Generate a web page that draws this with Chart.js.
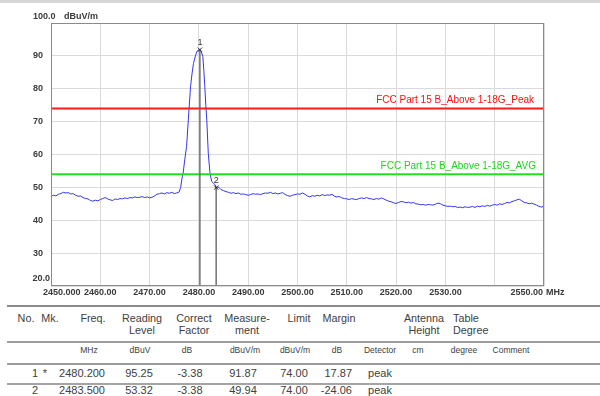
<!DOCTYPE html>
<html>
<head>
<meta charset="utf-8">
<script src="https://cdn.jsdelivr.net/npm/chart.js@4/dist/chart.umd.min.js"></script>
<style>
  html, body { margin: 0; padding: 0; background: #ffffff; }
  #wrap { position: relative; width: 600px; height: 396px; overflow: hidden; font-family: "Liberation Sans", Arial, sans-serif; }
  #topbar { position: absolute; left: 0; top: 0; width: 600px; height: 3px; background: #d6d6d6; }
  #cv { position: absolute; left: 0; top: 0; }
  .t { position: absolute; white-space: nowrap; color: #404040; line-height: 1; transform: translate(-50%, -50%); }
  .tr { transform: translate(-100%, -50%); }
  .tl { transform: translate(0, -50%); }
  .ln { position: absolute; left: 7px; width: 593px; background: #9a9a9a; }
</style>
</head>
<body>
<div id="wrap">
  <canvas id="cv" width="600" height="300"></canvas>
  <div id="topbar"></div>
  <div id="table"></div>
</div>
<script>
// ---------- data ----------
const xTickValues = [2450, 2460, 2470, 2480, 2490, 2500, 2510, 2520, 2530, 2540, 2550];
const xTickLabels = ['2450.000', '2460.00', '2470.00', '2480.00', '2490.00', '2500.00', '2510.00', '2520.00', '2530.00', '', '2550.00'];
const xUnit = 'MHz';
const yTickValues = [20, 30, 40, 50, 60, 70, 80, 90, 100];
const yTickLabels = ['20.0', '30', '40', '50', '60', '70', '80', '90', '100.0'];
const yUnit = 'dBuV/m';

const limitPeakLevel = 74;
const limitAvgLevel = 54;
const limitPeakName = 'FCC Part 15 B_Above 1-18G_Peak';
const limitAvgName = 'FCC Part 15 B_Above 1-18G_AVG';

const markerNo = ['1', '2'];
const markerFreq = [2480.2, 2483.5];
const markerLevel = [91.87, 49.94];

// measured trace [MHz, dBuV/m]
const trace = [
  [2450.0,47.3],[2450.5,47.6],[2451.0,47.4],[2451.5,47.9],[2452.0,48.1],[2452.5,48.5],[2453.0,48.3],[2453.5,48.4],
  [2454.0,48.0],[2454.5,48.1],[2455.0,47.6],[2455.5,47.3],[2456.0,47.4],[2456.5,46.9],[2457.0,46.6],[2457.5,46.5],
  [2458.0,46.0],[2458.5,45.8],[2459.0,46.1],[2459.5,45.9],[2460.0,46.3],[2460.5,46.6],[2461.0,46.9],[2461.5,46.5],
  [2462.0,46.2],[2462.5,46.0],[2463.0,46.5],[2463.5,46.3],[2464.0,46.6],[2464.5,46.5],[2465.0,46.8],[2465.5,46.6],
  [2466.0,46.9],[2466.5,46.8],[2467.0,47.1],[2467.5,46.9],[2468.0,47.0],[2468.5,47.2],[2469.0,46.9],[2469.5,47.1],
  [2470.0,46.8],[2470.5,47.0],[2471.0,47.4],[2471.5,47.9],[2472.0,48.1],[2472.5,48.3],[2473.0,48.0],[2473.5,48.4],
  [2474.0,48.2],[2474.5,48.5],[2475.0,48.1],[2475.5,48.3],[2476.0,48.6],[2476.3,50.0],[2476.6,53.0],[2476.8,54.3],
  [2477.1,58.0],[2477.5,62.4],[2477.85,70.5],[2478.3,80.6],[2478.6,84.5],[2478.9,87.7],[2479.3,90.0],[2479.6,91.3],
  [2479.9,91.8],[2480.2,91.87],[2480.5,91.2],[2480.8,89.8],[2481.0,85.5],[2481.2,80.6],[2481.4,75.0],[2481.6,70.5],
  [2481.9,60.4],[2482.25,54.3],[2482.6,51.8],[2483.0,51.2],[2483.3,50.8],[2483.5,49.94],[2484.0,50.1],[2484.5,49.3],
  [2485.0,49.0],[2485.5,48.7],[2486.0,48.5],[2486.5,48.2],[2487.0,48.4],[2487.5,48.1],[2488.0,48.3],[2488.5,47.9],
  [2489.0,48.0],[2489.5,47.8],[2490.0,47.6],[2490.5,47.8],[2491.0,48.1],[2491.5,47.9],[2492.0,48.0],[2492.5,47.8],
  [2493.0,48.1],[2493.5,48.3],[2494.0,48.2],[2494.5,48.5],[2495.0,48.1],[2495.5,48.3],[2496.0,48.0],[2496.5,48.2],
  [2497.0,48.4],[2497.5,47.8],[2498.0,47.5],[2498.5,47.3],[2499.0,47.6],[2499.5,47.8],[2500.0,48.0],[2500.5,47.9],
  [2501.0,48.3],[2501.5,47.9],[2502.0,47.4],[2502.5,47.1],[2503.0,47.5],[2503.5,47.3],[2504.0,47.6],[2504.5,47.4],
  [2505.0,47.8],[2505.5,47.5],[2506.0,47.7],[2506.5,47.6],[2507.0,47.9],[2507.5,47.3],[2508.0,47.1],[2508.5,47.2],
  [2509.0,46.8],[2509.5,46.6],[2510.0,46.5],[2510.5,46.3],[2511.0,46.6],[2511.5,46.4],[2512.0,46.3],[2512.5,46.6],
  [2513.0,46.8],[2513.5,46.6],[2514.0,46.9],[2514.5,46.6],[2515.0,46.5],[2515.5,46.3],[2516.0,46.6],[2516.5,46.4],
  [2517.0,46.8],[2517.5,46.5],[2518.0,46.1],[2518.5,45.8],[2519.0,45.6],[2519.5,45.3],[2520.0,45.1],[2520.5,45.4],
  [2521.0,45.7],[2521.5,45.6],[2522.0,45.3],[2522.5,45.5],[2523.0,45.2],[2523.5,45.4],[2524.0,45.0],[2524.5,44.9],
  [2525.0,44.7],[2525.5,44.8],[2526.0,44.6],[2526.5,44.8],[2527.0,44.7],[2527.5,44.6],[2528.0,44.9],[2528.5,45.2],
  [2529.0,45.0],[2529.5,44.6],[2530.0,44.4],[2530.5,44.2],[2531.0,44.3],[2531.5,44.1],[2532.0,44.2],[2532.5,43.9],
  [2533.0,44.0],[2533.5,43.8],[2534.0,44.1],[2534.5,43.9],[2535.0,44.0],[2535.5,44.2],[2536.0,43.9],[2536.5,44.3],
  [2537.0,44.1],[2537.5,44.4],[2538.0,44.2],[2538.5,44.5],[2539.0,44.3],[2539.5,44.6],[2540.0,44.8],[2540.5,44.6],
  [2541.0,45.0],[2541.5,44.8],[2542.0,45.1],[2542.5,45.4],[2543.0,45.3],[2543.5,45.7],[2544.0,45.9],[2544.5,46.2],
  [2545.0,46.4],[2545.5,45.9],[2546.0,45.4],[2546.5,45.3],[2547.0,45.0],[2547.5,45.2],[2548.0,44.9],[2548.5,44.6],
  [2549.0,44.2],[2549.5,44.0],[2550.0,44.3]
];

// result table
const tableHeader1 = ['No.', 'Mk.', 'Freq.', 'Reading', 'Correct', 'Measure-', 'Limit', 'Margin', '', 'Antenna', 'Table', ''];
const tableHeader2 = ['', '', '', 'Level', 'Factor', 'ment', '', '', '', 'Height', 'Degree', ''];
const tableUnits = ['', '', 'MHz', 'dBuV', 'dB', 'dBuV/m', 'dBuV/m', 'dB', 'Detector', 'cm', 'degree', 'Comment'];
const tableRows = [
  ['1', '*', '2480.200', '95.25', '-3.38', '91.87', '74.00', '17.87', 'peak', '', '', ''],
  ['2', '', '2483.500', '53.32', '-3.38', '49.94', '74.00', '-24.06', 'peak', '', '', '']
];

// ---------- chart ----------
const textPlugin = {
  id: 'texts',
  afterDraw(chart) {
    const ctx = chart.ctx, xs = chart.scales.x, ys = chart.scales.y, a = chart.chartArea;
    ctx.save();
    // frame
    ctx.strokeStyle = '#8a8a8a'; ctx.lineWidth = 1;
    ctx.strokeRect(a.left + 0.5, a.top + 0.5, a.right - a.left - 1, a.bottom - a.top - 1);
    ctx.fillStyle = '#3a3a3a';
    ctx.font = 'bold 9px "Liberation Sans", Arial, sans-serif';
    ctx.textBaseline = 'middle';
    // y end labels
    ctx.textAlign = 'left';
    ctx.fillText(yTickLabels[yTickLabels.length - 1], 33, ys.getPixelForValue(100) - 6);
    ctx.fillText(yUnit, 64, ys.getPixelForValue(100) - 6);
    ctx.textAlign = 'right';
    ctx.fillText(yTickLabels[0], a.left - 1, ys.getPixelForValue(20) - 7);
    // x labels
    xTickValues.forEach((v, i) => {
      const lab = xTickLabels[i];
      if (!lab) return;
      const px = xs.getPixelForValue(v);
      const py = a.bottom + 7;
      if (i === 0) { ctx.textAlign = 'left'; ctx.fillText(lab, px - 8, py); }
      else if (i === xTickValues.length - 1) {
        ctx.textAlign = 'right'; ctx.fillText(lab, px - 1, py);
        ctx.textAlign = 'left'; ctx.fillText(xUnit, px + 2, py);
      } else { ctx.textAlign = 'center'; ctx.fillText(lab, px, py); }
    });
    // limit names
    ctx.font = '10px "Liberation Sans", Arial, sans-serif';
    ctx.textAlign = 'right';
    ctx.fillStyle = '#ff1010';
    ctx.fillText(limitPeakName, a.right - 10, ys.getPixelForValue(limitPeakLevel) - 8);
    ctx.fillStyle = '#18d818';
    ctx.fillText(limitAvgName, a.right - 8, ys.getPixelForValue(limitAvgLevel) - 8);
    // marker numbers
    ctx.fillStyle = '#333333';
    ctx.font = '9px "Liberation Sans", Arial, sans-serif';
    ctx.textAlign = 'center';
    markerFreq.forEach((f, i) => {
      ctx.fillText(markerNo[i], xs.getPixelForValue(f), ys.getPixelForValue(markerLevel[i]) - 7);
    });
    ctx.restore();
  }
};

const datasets = [
  {
    data: trace.map(p => ({ x: p[0], y: p[1] })),
    borderColor: '#3434f4', borderWidth: 1, pointRadius: 0, tension: 0, order: 3
  },
  {
    data: [{ x: 2450, y: limitPeakLevel }, { x: 2550, y: limitPeakLevel }],
    borderColor: '#ff1a1a', borderWidth: 2, pointRadius: 0, order: 2
  },
  {
    data: [{ x: 2450, y: limitAvgLevel }, { x: 2550, y: limitAvgLevel }],
    borderColor: '#22e022', borderWidth: 2, pointRadius: 0, order: 2
  }
];
markerFreq.forEach((f, i) => {
  datasets.push({
    data: [{ x: f, y: markerLevel[i] }, { x: f, y: 20 }],
    borderColor: '#666666', borderWidth: 1.4,
    pointStyle: 'crossRot', pointRadius: [3, 0], pointBorderColor: '#222', pointBorderWidth: 1,
    order: 1
  });
});

new Chart(document.getElementById('cv'), {
  type: 'line',
  data: { datasets },
  plugins: [textPlugin],
  options: {
    responsive: false, animation: false, devicePixelRatio: 1,
    layout: { padding: { left: 0, top: 23, right: 56, bottom: 0 } },
    plugins: { legend: { display: false }, tooltip: { enabled: false } },
    scales: {
      x: {
        type: 'linear', min: 2450, max: 2550,
        afterBuildTicks: s => { s.ticks = xTickValues.map(v => ({ value: v })); },
        afterFit: s => { s.height = 14; },
        ticks: { display: false },
        grid: { color: '#dadada', drawTicks: false },
        border: { display: false }
      },
      y: {
        type: 'linear', min: 20, max: 100,
        afterBuildTicks: s => { s.ticks = yTickValues.map(v => ({ value: v })); },
        afterFit: s => { s.width = 51; },
        ticks: {
          padding: 8, color: '#3a3a3a',
          font: { family: '"Liberation Sans", Arial, sans-serif', size: 9, weight: 'bold' },
          callback: (v) => { const i = yTickValues.indexOf(v); return (i <= 0 || i === yTickValues.length - 1) ? '' : yTickLabels[i]; }
        },
        grid: { color: '#dadada', drawTicks: false },
        border: { display: false }
      }
    }
  }
});

// ---------- table ----------
const tbl = document.getElementById('table');
function put(txt, x, y, cls, size) {
  if (!txt) return;
  const d = document.createElement('div');
  d.className = 't ' + (cls || '');
  d.style.left = x + 'px'; d.style.top = y + 'px'; d.style.fontSize = size + 'px';
  d.textContent = txt; tbl.appendChild(d);
}
function line(y, h, c) {
  const d = document.createElement('div');
  d.className = 'ln'; d.style.top = y + 'px'; d.style.height = h + 'px';
  if (c) d.style.background = c;
  tbl.appendChild(d);
}
line(305, 2, '#8c8c8c'); line(341, 2, '#9c9c9c'); line(363, 2, '#9c9c9c'); line(383, 2, '#a4a4a4');
// column anchor x and alignment: [x, cls]
const hdrCols = [[26, ''], [50, ''], [93, ''], [142, ''], [194, ''], [247, ''], [299, ''], [339, ''], [380, ''], [424, ''], [453, 'tl'], [511, '']];
tableHeader1.forEach((t, i) => put(t, hdrCols[i][0], 318, hdrCols[i][1], 10.8));
tableHeader2.forEach((t, i) => put(t, hdrCols[i][0], 330, hdrCols[i][1], 10.8));
const unitCols = [[26, ''], [50, ''], [89, ''], [140, ''], [187, ''], [245, ''], [295, ''], [337, ''], [380, ''], [418, ''], [464, ''], [511, '']];
tableUnits.forEach((t, i) => put(t, unitCols[i][0], 350, unitCols[i][1], 8.5));
const rowCols = [[38, 'tr'], [45, ''], [105, 'tr'], [139, ''], [190, ''], [243, ''], [294, ''], [352, 'tr'], [380, ''], [418, ''], [464, ''], [511, '']];
const rowY = [373, 390];
tableRows.forEach((r, j) => r.forEach((t, i) => put(t, rowCols[i][0], rowY[j], rowCols[i][1], 11)));
</script>
</body>
</html>
